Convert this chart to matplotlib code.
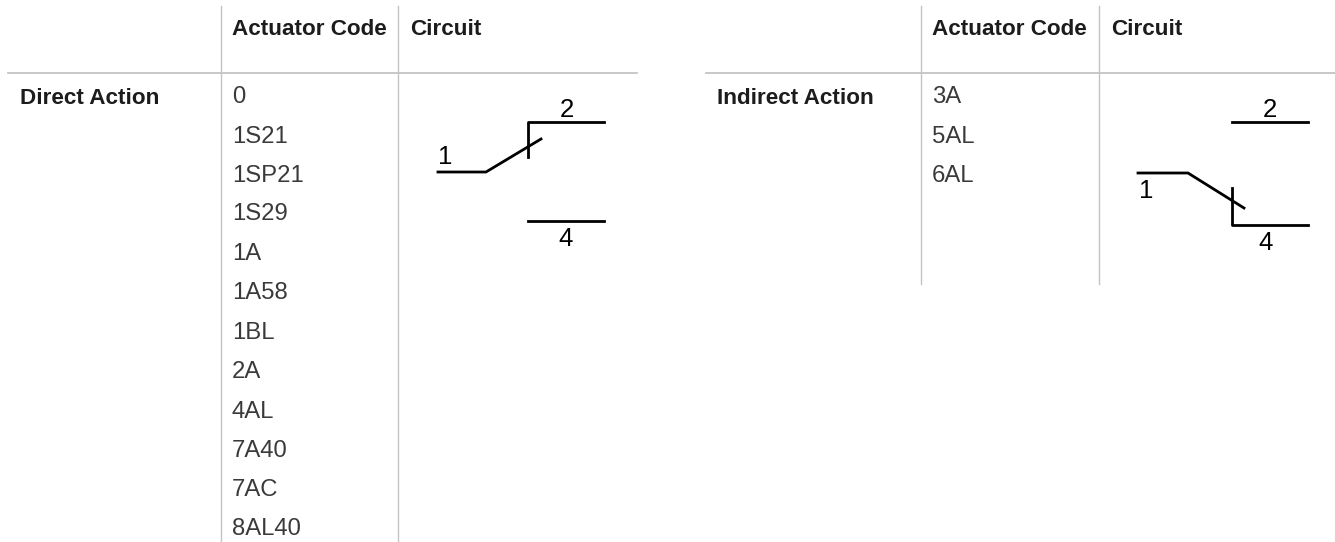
import matplotlib
matplotlib.use("Agg")
import matplotlib.pyplot as plt

plt.rcParams["font.family"] = ["Liberation Sans", "DejaVu Sans"]

W, H = 1335, 542

direct_title = "Direct Action"
indirect_title = "Indirect Action"
col_code = "Actuator Code"
col_circuit = "Circuit"
direct_codes = ["0", "1S21", "1SP21", "1S29", "1A", "1A58", "1BL", "2A", "4AL", "7A40", "7AC", "8AL40"]
indirect_codes = ["3A", "5AL", "6AL"]

# text baselines in pixels from the top
direct_rows = [103, 143, 182, 220, 260, 299, 339, 378, 418, 457, 496, 535]
indirect_rows = [103, 143, 182]

grey = "#c4c4c4"
ink = "#1c1c1c"

fig = plt.figure(figsize=(W / 100, H / 100), dpi=100)
ax = fig.add_axes([0, 0, 1, 1])
ax.set_xlim(0, W)
ax.set_ylim(H, 0)
ax.axis("off")


def table(x_line, x_rule0, x_rule1, x_div, x_title, title, codes, rows, y_bottom):
    ax.plot([x_rule0, x_rule1], [73, 73], color=grey, lw=1.3)
    ax.plot([x_line, x_line], [6, y_bottom], color=grey, lw=1)
    ax.plot([x_div, x_div], [6, y_bottom], color=grey, lw=1)
    ax.text(x_title, 104, title, fontsize=16.2, fontweight="bold", va="baseline", color=ink)
    ax.text(x_line + 11, 35, col_code, fontsize=16.2, fontweight="bold", va="baseline", color=ink)
    ax.text(x_div + 12, 35, col_circuit, fontsize=16.2, fontweight="bold", va="baseline", color=ink)
    for code, y in zip(codes, rows):
        ax.text(x_line + 11, y, code, fontsize=17.2, va="baseline", color="#3a3a3a")


table(221, 8, 637, 398, 20, direct_title, direct_codes, direct_rows, H)
table(921, 706, 1335, 1099, 717, indirect_title, indirect_codes, indirect_rows, 284)

# switch symbols
ax.plot([438, 486, 541], [172, 172, 139], color="k", lw=2)
ax.plot([528, 528, 604], [157, 122, 122], color="k", lw=2)
ax.plot([528, 604], [221, 221], color="k", lw=2)
ax.plot([1138, 1188, 1244], [173, 173, 208], color="k", lw=2)
ax.plot([1232, 1232, 1308], [188, 225, 225], color="k", lw=2)
ax.plot([1232, 1308], [122, 122], color="k", lw=2)

for x, y, s in [(445, 157, "1"), (567, 110, "2"), (566, 239, "4"),
                (1146, 191, "1"), (1270, 110, "2"), (1266, 243, "4")]:
    ax.text(x, y, s, fontsize=18.5, ha="center", va="center", color="k")

fig.savefig("out.png", dpi=100)
